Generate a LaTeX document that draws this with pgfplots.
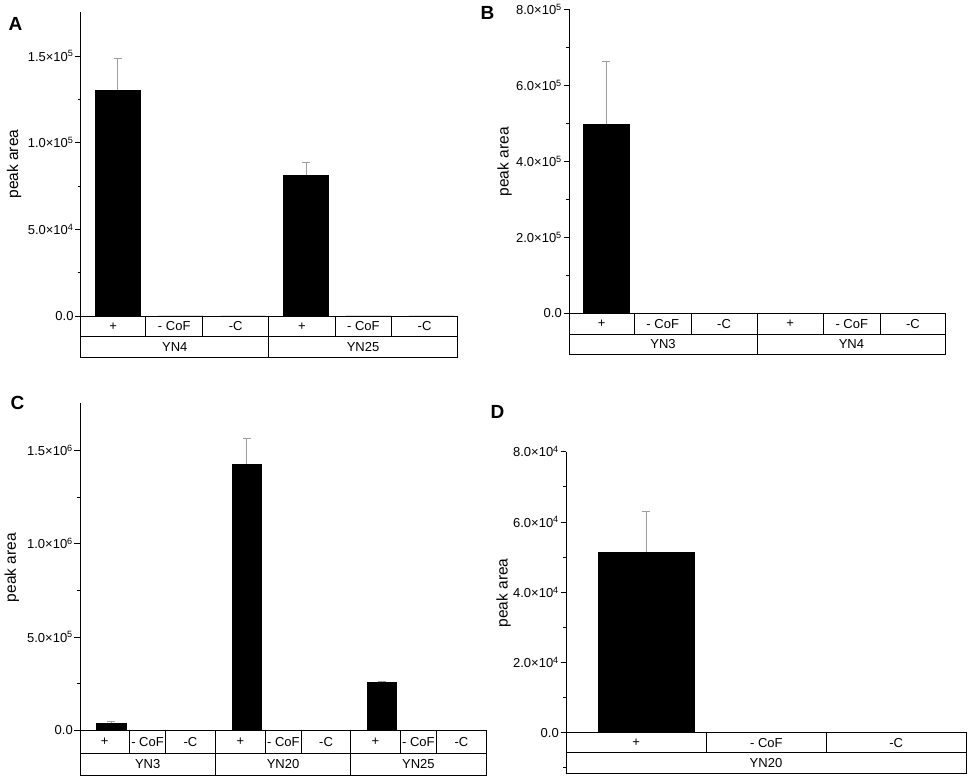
\documentclass[border=0pt]{standalone}
\usepackage{fontspec}
\setmainfont{Liberation Sans}
\setsansfont{Liberation Sans}
\usepackage{pgfplots}
\pgfplotsset{compat=1.18}
\newcommand{\tfont}{\fontsize{13bp}{13bp}\selectfont}
\newcommand{\lfont}{\fontsize{15.5bp}{15.5bp}\selectfont}
\newcommand{\pfont}{\bfseries\fontsize{19bp}{19bp}\selectfont}
\definecolor{errgray}{gray}{0.62}
\tikzset{
  tab/.style={line width=0.8bp, black},
  cell/.style={font=\tfont, inner sep=0pt},
}
\pgfplotsset{
  panel/.style={
    scale only axis, anchor=south west,
    axis x line=none, axis y line=left,
    axis line style={-, line width=0.8bp, black},
    tick align=outside, major tick length=5.5bp, minor tick length=3bp,
    ytick style={black, line width=0.8bp},
    xtick=\empty, scaled y ticks=false, clip=false,
    yticklabel style={font=\tfont, inner sep=1.5bp},
    ylabel={peak area},
    ylabel style={font=\lfont, anchor=center},
  },
  barsty/.style={ybar, fill=black, draw=black, line width=0.5bp},
  errsty/.style={draw=none, forget plot,
    error bars/.cd, y dir=plus, y explicit,
    error bar style={draw=errgray, line width=0.7bp},
    error mark options={rotate=90, mark size=4bp, draw=errgray, line width=0.7bp}},
}
\begin{document}
\begin{tikzpicture}
\useasboundingbox (0,0) rectangle (969bp,778bp);

% ---------------- Panel A ----------------
\begin{axis}[panel, at={(80.7bp,420.7bp)}, width=376.6bp, height=345.6bp,
  xmin=0.41, xmax=6.41, ymin=-23818, ymax=175500,
  ytick={0,50000,100000,150000},
  yticklabels={0.0,{5.0×10\textsuperscript{4}},{1.0×10\textsuperscript{5}},{1.5×10\textsuperscript{5}}},
  minor ytick={25000,75000,125000},
  ylabel style={at={(axis description cs:-0.177,0.559)}}]
\addplot[barsty, bar width=0.72] coordinates {(1,130300) (2,0) (3,0) (4,81100) (5,0) (6,0)};
\addplot[errsty] coordinates {(1,130300) +- (0,18300) (4,81100) +- (0,7500)};
\draw[tab] (axis cs:0.41,0) rectangle (axis cs:6.41,-23818);
\draw[tab] (axis cs:0.41,-11937) -- (axis cs:6.41,-11937);
\draw[tab] (axis cs:1.446,0) -- (axis cs:1.446,-11937);
\draw[tab] (axis cs:2.354,0) -- (axis cs:2.354,-11937);
\draw[tab] (axis cs:3.405,0) -- (axis cs:3.405,-23818);
\draw[tab] (axis cs:4.462,0) -- (axis cs:4.462,-11937);
\draw[tab] (axis cs:5.365,0) -- (axis cs:5.365,-11937);
\node[cell] at (axis cs:0.928,-5970) {+};
\node[cell] at (axis cs:1.900,-5970) {- CoF};
\node[cell] at (axis cs:2.880,-5970) {-C};
\node[cell] at (axis cs:3.934,-5970) {+};
\node[cell] at (axis cs:4.914,-5970) {- CoF};
\node[cell] at (axis cs:5.888,-5970) {-C};
\node[cell] at (axis cs:1.908,-17880) {YN4};
\node[cell] at (axis cs:4.908,-17880) {YN25};
\end{axis}

% ---------------- Panel B ----------------
\begin{axis}[panel, at={(569bp,423.7bp)}, width=376.7bp, height=345bp,
  xmin=0.41, xmax=6.41, ymin=-107900, ymax=800000,
  ytick={0,200000,400000,600000,800000},
  yticklabels={0.0,{2.0×10\textsuperscript{5}},{4.0×10\textsuperscript{5}},{6.0×10\textsuperscript{5}},{8.0×10\textsuperscript{5}}},
  minor ytick={100000,300000,500000,700000},
  ylabel style={at={(axis description cs:-0.171,0.558)}}]
\addplot[barsty, bar width=0.73] coordinates {(1,497000) (2,0) (3,0) (4,0) (5,0) (6,0)};
\addplot[errsty] coordinates {(1,497000) +- (0,166000)};
\draw[tab] (axis cs:0.41,0) rectangle (axis cs:6.41,-107900);
\draw[tab] (axis cs:0.41,-54474) -- (axis cs:6.41,-54474);
\draw[tab] (axis cs:1.451,0) -- (axis cs:1.451,-54474);
\draw[tab] (axis cs:2.354,0) -- (axis cs:2.354,-54474);
\draw[tab] (axis cs:3.405,0) -- (axis cs:3.405,-107900);
\draw[tab] (axis cs:4.462,0) -- (axis cs:4.462,-54474);
\draw[tab] (axis cs:5.365,0) -- (axis cs:5.365,-54474);
\node[cell] at (axis cs:0.930,-27237) {+};
\node[cell] at (axis cs:1.903,-27237) {- CoF};
\node[cell] at (axis cs:2.880,-27237) {-C};
\node[cell] at (axis cs:3.934,-27237) {+};
\node[cell] at (axis cs:4.914,-27237) {- CoF};
\node[cell] at (axis cs:5.888,-27237) {-C};
\node[cell] at (axis cs:1.908,-81187) {YN3};
\node[cell] at (axis cs:4.908,-81187) {YN4};
\end{axis}

% ---------------- Panel C ----------------
\begin{axis}[panel, at={(80bp,3bp)}, width=406bp, height=372.3bp,
  xmin=0.305, xmax=9.305, ymin=-239500, ymax=1755000,
  ytick={0,500000,1000000,1500000},
  yticklabels={0.0,{5.0×10\textsuperscript{5}},{1.0×10\textsuperscript{6}},{1.5×10\textsuperscript{6}}},
  minor ytick={250000,750000,1250000},
  ylabel style={at={(axis description cs:-0.168,0.557)}}]
\addplot[barsty, bar width=0.65] coordinates {(1,37500) (2,0) (3,0) (4,1424000) (5,0) (6,0) (7,257000) (8,0) (9,0)};
\addplot[errsty] coordinates {(1,37500) +- (0,8600) (4,1424000) +- (0,142000) (7,257000) +- (0,7000)};
\draw[tab] (axis cs:0.305,0) rectangle (axis cs:9.305,-239500);
\draw[tab] (axis cs:0.305,-121600) -- (axis cs:9.305,-121600);
\draw[tab] (axis cs:1.399,0) -- (axis cs:1.399,-121600);
\draw[tab] (axis cs:2.204,0) -- (axis cs:2.204,-121600);
\draw[tab] (axis cs:3.306,0) -- (axis cs:3.306,-239500);
\draw[tab] (axis cs:4.414,0) -- (axis cs:4.414,-121600);
\draw[tab] (axis cs:5.213,0) -- (axis cs:5.213,-121600);
\draw[tab] (axis cs:6.306,0) -- (axis cs:6.306,-239500);
\draw[tab] (axis cs:7.400,0) -- (axis cs:7.400,-121600);
\draw[tab] (axis cs:8.213,0) -- (axis cs:8.213,-121600);
\node[cell] at (axis cs:0.852,-60800) {+};
\node[cell] at (axis cs:1.802,-60800) {- CoF};
\node[cell] at (axis cs:2.755,-60800) {-C};
\node[cell] at (axis cs:3.860,-60800) {+};
\node[cell] at (axis cs:4.814,-60800) {- CoF};
\node[cell] at (axis cs:5.760,-60800) {-C};
\node[cell] at (axis cs:6.853,-60800) {+};
\node[cell] at (axis cs:7.807,-60800) {- CoF};
\node[cell] at (axis cs:8.759,-60800) {-C};
\node[cell] at (axis cs:1.806,-180550) {YN3};
\node[cell] at (axis cs:4.806,-180550) {YN20};
\node[cell] at (axis cs:7.806,-180550) {YN25};
\end{axis}

% ---------------- Panel D ----------------
\begin{axis}[panel, at={(566bp,4.7bp)}, width=400bp, height=321.6bp,
  xmin=0.4, xmax=3.4, ymin=-11600, ymax=80000,
  ytick={0,20000,40000,60000,80000},
  yticklabels={0.0,{2.0×10\textsuperscript{4}},{4.0×10\textsuperscript{4}},{6.0×10\textsuperscript{4}},{8.0×10\textsuperscript{4}}},
  minor ytick={-10000,10000,30000,50000,70000},
  ylabel style={at={(axis description cs:-0.156,0.561)}}]
\addplot[barsty, bar width=0.72] coordinates {(1,51400) (2,0) (3,0)};
\addplot[errsty] coordinates {(1,51400) +- (0,11700)};
\draw[tab] (axis cs:0.4,0) rectangle (axis cs:3.4,-11600);
\draw[tab] (axis cs:0.4,-5714) -- (axis cs:3.4,-5714);
\draw[tab] (axis cs:1.4525,0) -- (axis cs:1.4525,-5714);
\draw[tab] (axis cs:2.3525,0) -- (axis cs:2.3525,-5714);
\node[cell] at (axis cs:0.926,-2857) {+};
\node[cell] at (axis cs:1.9025,-2857) {- CoF};
\node[cell] at (axis cs:2.876,-2857) {-C};
\node[cell] at (axis cs:1.9,-8657) {YN20};
\end{axis}

\node[font=\pfont] at (15.5bp,754.5bp) {A};
\node[font=\pfont] at (487.5bp,765.5bp) {B};
\node[font=\pfont] at (17.5bp,375bp) {C};
\node[font=\pfont] at (497.5bp,366.5bp) {D};
\end{tikzpicture}
\end{document}
